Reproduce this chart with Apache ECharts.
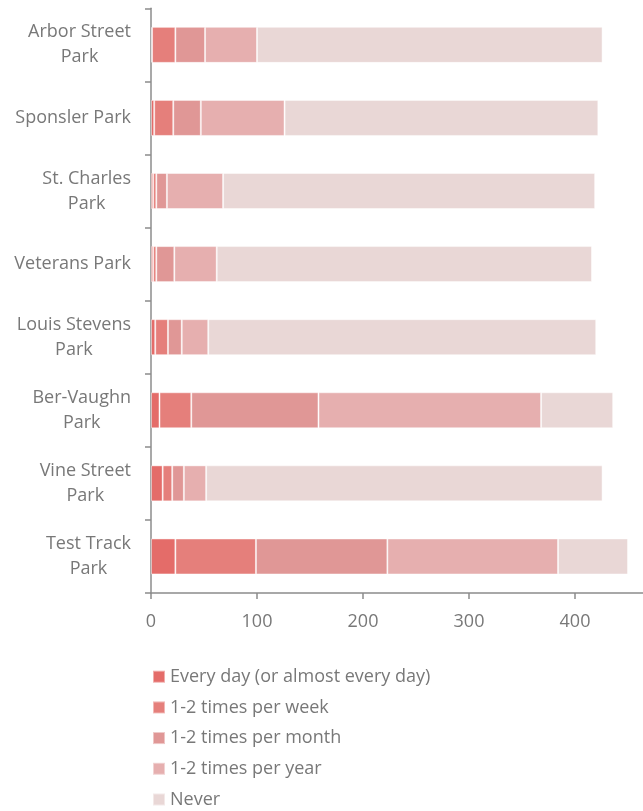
<!DOCTYPE html>
<html>
<head>
<meta charset="utf-8">
<script src="https://cdn.jsdelivr.net/npm/echarts@6/dist/echarts.min.js"></script>
<style>html,body{margin:0;padding:0;background:#fff}#c{width:643px;height:811px}</style>
</head>
<body>
<div id="c"></div>
<script>
const categories = ['Arbor Street\nPark', 'Sponsler Park', 'St. Charles\nPark', 'Veterans Park', 'Louis Stevens\nPark', 'Ber-Vaughn\nPark', 'Vine Street\nPark', 'Test Track\nPark'];
const seriesNames = ['Every day (or almost every day)', '1-2 times per week', '1-2 times per month', '1-2 times per year', 'Never'];
const everyDay     = [1, 3, 2, 2, 4, 8, 11, 23];
const perWeek      = [22, 18, 3, 3, 12, 30, 9, 76];
const perMonth     = [28, 26, 10, 17, 13, 120, 11, 124];
const perYear      = [49, 79, 53, 40, 25, 210, 21, 161];
const never        = [326, 296, 351, 354, 366, 68, 374, 66];
const xTicks = [0, 100, 200, 300, 400, 500];

const colors = ['#e46c69', '#e57f7b', '#e09796', '#e6afaf', '#e9d7d6'];
const values = [everyDay, perWeek, perMonth, perYear, never];
const textColor = '#787878';
const axisColor = '#8c8c8c';
const font = '"Open Sans", sans-serif';

const chart = echarts.init(document.getElementById('c'), null, {renderer: 'canvas'});
chart.setOption({
  animation: false,
  textStyle: {fontFamily: font},
  grid: {left: 151, top: 8.3, bottom: 218, right: -38, containLabel: false, outerBoundsMode: 'none'},
  legend: {
    orient: 'vertical', left: 152, top: 667.7, padding: 0, height: 150,
    itemWidth: 12, itemHeight: 12, itemGap: 12.7, icon: 'rect',
    textStyle: {fontSize: 18, color: textColor, fontFamily: font, lineHeight: 18},
    data: seriesNames
  },
  xAxis: {
    type: 'value', min: xTicks[0], max: xTicks[xTicks.length - 1], interval: 100,
    axisLine: {show: true, lineStyle: {color: axisColor, width: 1.5}},
    axisTick: {show: true, length: 6, lineStyle: {color: axisColor, width: 1.5}},
    splitLine: {show: false},
    axisLabel: {fontSize: 18, color: textColor, margin: 20, fontFamily: font}
  },
  yAxis: {
    type: 'category', data: categories, inverse: true,
    axisLine: {show: true, lineStyle: {color: axisColor, width: 1.5}},
    axisTick: {show: true, length: 6, lineStyle: {color: axisColor, width: 1.5}},
    axisLabel: {
      margin: 20, align: 'right',
      formatter: v => v.split('\n').map(s => '{c|' + s + '}').join('\n'),
      rich: {c: {fontSize: 18, color: textColor, lineHeight: 25, align: 'center', fontFamily: font}}
    }
  },
  series: seriesNames.map((name, i) => ({
    name: name, type: 'bar', stack: 'total', barWidth: 36,
    itemStyle: {color: colors[i], borderColor: 'rgba(255,255,255,0.45)', borderWidth: 1},
    data: values[i]
  }))
});
</script>
</body>
</html>
